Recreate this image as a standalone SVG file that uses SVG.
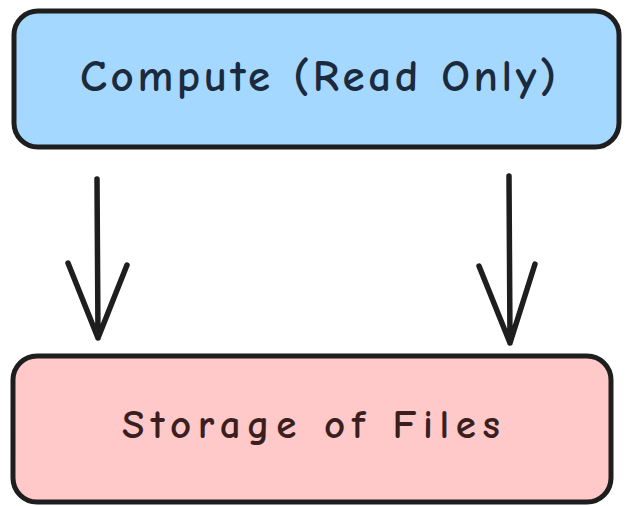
<svg xmlns="http://www.w3.org/2000/svg" width="626" height="506" viewBox="0 0 626 506">
<style>
.box{stroke:#1e1e1e;stroke-width:5;stroke-linejoin:round}
.lbl{font-family:"Comic Neue","Liberation Sans",sans-serif;text-anchor:middle;font-weight:700}
.arr{stroke:#1e1e1e;stroke-width:5.5;fill:none;stroke-linecap:round;stroke-linejoin:round}
</style>
<rect width="626" height="506" fill="#ffffff"/>
<g id="compute">
<rect class="box" x="14" y="11" width="605" height="136" rx="24" fill="#a5d8ff"/>
<text class="lbl" x="318" y="91" font-size="45" fill="#1b2a3c" textLength="476" lengthAdjust="spacing">Compute (Read Only)</text>
</g>
<g id="storage">
<rect class="box" x="13" y="356" width="598" height="146" rx="24" fill="#ffc9c9"/>
<text class="lbl" x="311" y="438" font-size="41" fill="#3b1f1f" textLength="378" lengthAdjust="spacing">Storage of Files</text>
</g>
<g id="connectors">
<path class="arr" d="M97 179 L98 338 M68 263 L98 338 L127 265"/>
<path class="arr" d="M509 176 L510 343 M479 266 L510 343 L535 264"/>
</g>
</svg>
